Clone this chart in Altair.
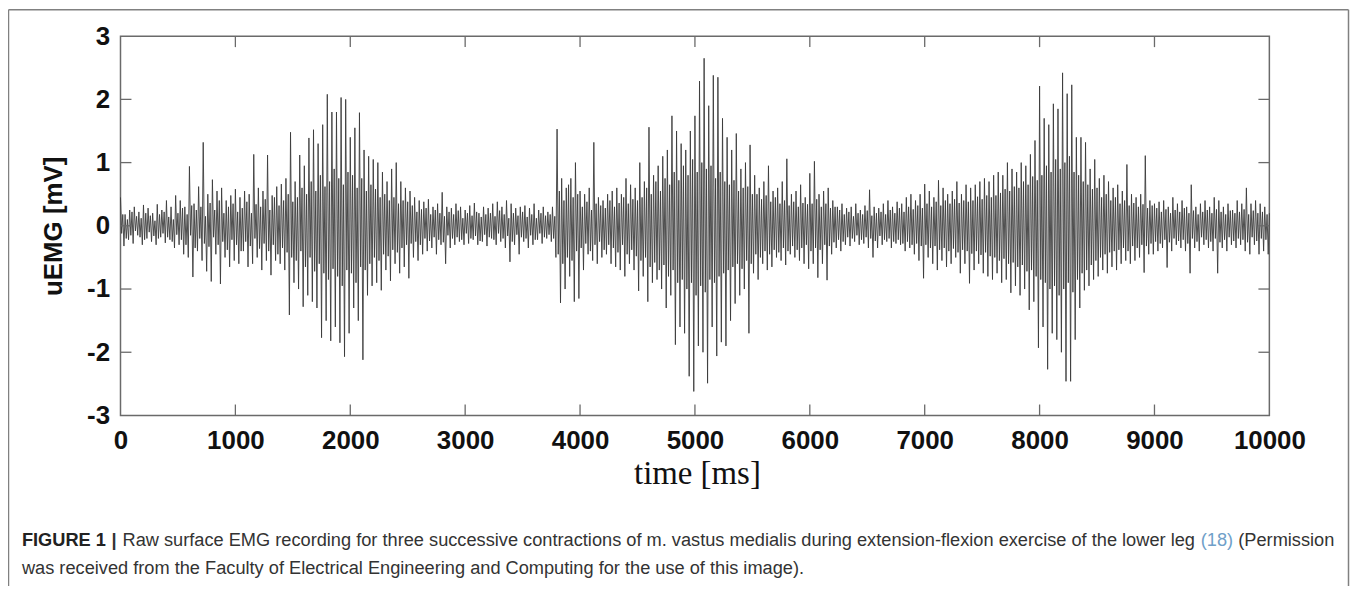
import altair as alt
import pandas as pd

# ---------------- data ----------------
# main peaks, one every 20 ms
emg_0_2s = [
    0.45, -0.32, 0.18, -0.22, 0.25, -0.28, 0.30, -0.15, 0.22, -0.30, 0.33, -0.20, 0.28, -0.25, 0.20, -0.30, 0.34, -0.18, 0.25, -0.27, 0.40, -0.22, 0.30, -0.35, 0.48,
    -0.30, 0.40, -0.45, 0.30, -0.50, 0.94, -0.81, 0.35, -0.40, 0.62, -0.55, 1.32, -0.72, 0.50, -0.88, 0.73, -0.45, 0.55, -0.92, 0.60, -0.50, 0.40, -0.65, 0.48, -0.55,
    0.58, -0.60, 0.45, -0.40, 0.55, -0.65, 0.50, -0.60, 1.13, -0.50, 0.60, -0.70, 0.55, -0.55, 1.12, -0.78, 0.48, -0.55, 0.62, -0.60, 0.66, -0.70, 0.75, -1.41, 1.48,
    -0.90, 0.70, -1.00, 1.12, -1.28, 0.95, -1.10, 1.39, -1.20, 1.52, -1.30, 1.30, -1.77, 1.60, -1.50, 2.08, -1.82, 1.80, -1.60, 1.80, -1.85, 2.03, -2.07, 2.00, -1.70,
]
emg_2_4s = [
    1.40, -1.30, 1.55, -1.50, 1.79, -2.12, 1.20, -1.10, 1.10, -0.95, 1.05, -0.90, 1.00, -1.02, 0.85, -0.70, 0.70, -0.87, 0.90, -0.60, 1.00, -0.75, 0.70, -0.65, 0.60,
    -0.83, 0.55, -0.50, 0.45, -0.55, 0.40, -0.45, 0.38, -0.40, 0.42, -0.35, 0.30, -0.45, 0.35, -0.30, 0.53, -0.60, 0.30, -0.35, 0.28, -0.30, 0.35, -0.25, 0.30, -0.30,
    0.25, -0.28, 0.32, -0.22, 0.36, -0.30, 0.20, -0.25, 0.30, -0.32, 0.28, -0.20, 0.35, -0.30, 0.38, -0.25, 0.30, -0.35, 0.40, -0.57, 0.35, -0.30, 0.28, -0.45, 0.30,
    -0.25, 0.32, -0.35, 0.28, -0.30, 0.35, -0.22, 0.25, -0.28, 0.30, -0.20, 0.22, -0.25, 0.30, -0.50, 1.53, -1.22, 0.75, -1.00, 0.60, -0.80, 0.75, -1.20, 1.00, -1.15,
]
emg_4_6s = [
    0.55, -0.70, 0.50, -0.45, 0.60, -0.55, 1.32, -0.60, 0.45, -0.50, 0.40, -0.45, 0.50, -0.60, 0.55, -0.65, 0.60, -0.70, 0.50, -0.80, 0.75, -0.60, 0.65, -0.70, 0.60,
    -1.03, 1.00, -0.80, 0.70, -1.20, 1.56, -0.90, 0.80, -0.85, 0.95, -1.00, 1.10, -1.30, 1.20, -1.10, 1.74, -1.88, 1.50, -1.60, 1.30, -1.70, 1.20, -2.38, 1.50, -2.62,
    1.74, -1.90, 2.29, -2.00, 2.65, -2.49, 1.90, -1.60, 2.38, -2.06, 2.35, -1.84, 1.70, -1.90, 1.40, -1.50, 1.20, -1.23, 1.46, -1.10, 0.90, -1.00, 1.00, -1.70, 1.28,
    -0.75, 0.80, -0.85, 0.60, -0.60, 0.70, -0.70, 0.95, -0.65, 0.55, -0.50, 0.60, -0.55, 0.70, -0.62, 1.06, -0.45, 0.50, -0.50, 0.55, -0.55, 0.65, -0.60, 0.45, -0.68,
]
emg_6_8s = [
    0.83, -0.60, 1.02, -0.82, 0.50, -0.60, 0.55, -0.86, 0.60, -0.45, 0.40, -0.35, 0.30, -0.40, 0.35, -0.30, 0.28, -0.32, 0.30, -0.25, 0.35, -0.30, 0.25, -0.28, 0.32,
    -0.35, 0.57, -0.50, 0.30, -0.35, 0.28, -0.30, 0.35, -0.25, 0.40, -0.35, 0.30, -0.28, 0.38, -0.30, 0.35, -0.40, 0.45, -0.35, 0.50, -0.45, 0.40, -0.55, 0.50, -0.83,
    0.66, -0.50, 0.55, -0.60, 0.45, -0.70, 0.72, -0.55, 0.60, -0.65, 0.50, -0.60, 0.55, -0.50, 0.70, -0.75, 0.50, -0.60, 0.65, -0.91, 0.60, -0.70, 0.65, -0.60, 0.70,
    -0.75, 0.75, -0.80, 0.70, -0.85, 0.80, -0.75, 0.85, -0.90, 0.80, -0.85, 1.00, -1.06, 0.90, -0.95, 0.85, -1.10, 1.00, -1.00, 0.95, -1.33, 1.13, -1.20, 1.35, -1.93,
]
emg_8_10s = [
    2.21, -1.60, 1.70, -2.27, 1.60, -1.70, 1.93, -1.80, 1.85, -2.00, 2.42, -2.46, 2.09, -2.46, 2.23, -1.80, 1.40, -1.30, 1.40, -1.02, 1.32, -0.95, 0.90, -0.85, 1.05,
    -0.80, 0.75, -0.70, 0.80, -0.75, 0.70, -0.65, 0.60, -0.70, 0.65, -0.60, 0.55, -0.55, 0.97, -0.60, 0.50, -0.55, 0.45, -0.50, 0.50, -0.74, 1.11, -0.45, 0.40, -0.45,
    0.35, -0.40, 0.38, -0.35, 0.40, -0.66, 0.30, -0.40, 0.45, -0.30, 0.35, -0.35, 0.40, -0.40, 0.30, -0.75, 0.65, -0.35, 0.30, -0.40, 0.35, -0.30, 0.40, -0.35, 0.30,
    -0.40, 0.45, -0.75, 0.40, -0.35, 0.30, -0.40, 0.35, -0.30, 0.25, -0.35, 0.40, -0.30, 0.35, -0.40, 0.60, -0.45, 0.35, -0.30, 0.40, -0.45, 0.35, -0.40, 0.30, -0.45,
    0.20,
]

# the dark core of the trace: two smaller samples between each pair of peaks
core_0_2s = [
    -0.12, 0.18, -0.20, 0.10, -0.15, 0.22, -0.08, 0.15, -0.18, 0.12, -0.22, 0.20, -0.10, 0.16, -0.16, 0.08, -0.20, 0.18, -0.12, 0.22, -0.18, 0.14, -0.25, 0.10, -0.14, 0.20,
    -0.22, 0.28, -0.30, 0.18, -0.15, 0.32, -0.35, 0.25, -0.20, 0.30, -0.28, 0.15, -0.33, 0.36, -0.18, 0.25, -0.30, 0.40, -0.25, 0.20, -0.38, 0.30, -0.22, 0.35,
    -0.30, 0.22, -0.40, 0.28, -0.25, 0.38, -0.32, 0.20, -0.20, 0.34, -0.36, 0.30, -0.28, 0.42, -0.40, 0.25, -0.30, 0.45, -0.45, 0.32, -0.35, 0.40, -0.42, 0.50, -0.50, 0.38,
    -0.55, 0.45, -0.40, 0.60, -0.65, 0.50, -0.50, 0.70, -0.72, 0.55, -0.60, 0.80, -0.75, 0.62, -0.85, 0.70, -0.68, 0.90, -0.80, 0.75, -0.95, 0.65, -0.70, 0.85,
]
core_2_4s = [
    -0.75, 0.80, -0.90, 0.60, -0.65, 0.75, -0.70, 0.55, -0.60, 0.65, -0.50, 0.58, -0.55, 0.45, -0.45, 0.50, -0.48, 0.40, -0.38, 0.45, -0.42, 0.35, -0.35, 0.40, -0.30, 0.38,
    -0.28, 0.32, -0.25, 0.22, -0.30, 0.26, -0.20, 0.28, -0.24, 0.18, -0.18, 0.25, -0.22, 0.20, -0.26, 0.15, -0.15, 0.22, -0.20, 0.18, -0.18, 0.24, -0.22, 0.12,
    -0.12, 0.20, -0.20, 0.16, -0.16, 0.22, -0.24, 0.14, -0.14, 0.18, -0.18, 0.20, -0.22, 0.15, -0.12, 0.24, -0.20, 0.18, -0.16, 0.12, -0.25, 0.20, -0.14, 0.16,
    -0.18, 0.22, -0.20, 0.14, -0.15, 0.18, -0.22, 0.12, -0.12, 0.20, -0.18, 0.16, -0.14, 0.18, -0.20, 0.15,
    -0.45, 0.55, -0.60, 0.40, -0.50, 0.65, -0.55, 0.45, -0.40, 0.50,
]
core_4_6s = [
    -0.35, 0.30, -0.28, 0.38, -0.40, 0.25, -0.30, 0.35, -0.25, 0.32, -0.38, 0.28, -0.30, 0.40, -0.35, 0.30, -0.42, 0.36, -0.30, 0.45, -0.45, 0.35, -0.38, 0.42, -0.48, 0.40,
    -0.55, 0.45, -0.50, 0.60, -0.65, 0.50, -0.58, 0.70, -0.70, 0.55, -0.62, 0.75, -0.80, 0.65, -0.70, 0.85, -0.90, 0.72, -0.85, 0.95, -1.00, 0.80, -0.90, 1.05,
    -1.10, 0.85, -0.95, 1.00, -1.05, 0.90, -0.85, 0.95, -0.90, 0.75, -0.80, 0.85, -0.75, 0.70, -0.70, 0.65, -0.65, 0.72, -0.60, 0.55, -0.68, 0.60, -0.55, 0.62, -0.60, 0.50,
    -0.45, 0.50, -0.50, 0.42, -0.40, 0.48, -0.45, 0.38, -0.38, 0.45, -0.42, 0.35, -0.35, 0.40, -0.40, 0.32, -0.32, 0.38, -0.38, 0.30, -0.35, 0.36, -0.30, 0.34,
]
core_6_8s = [
    -0.40, 0.35, -0.35, 0.42, -0.38, 0.30, -0.30, 0.35, -0.32, 0.28, -0.26, 0.30,
    -0.22, 0.25, -0.25, 0.18, -0.18, 0.22, -0.20, 0.15, -0.15, 0.20, -0.22, 0.18, -0.18, 0.24, -0.20, 0.16, -0.24, 0.20, -0.16, 0.22,
    -0.22, 0.18, -0.20, 0.25, -0.25, 0.20, -0.22, 0.28, -0.28, 0.22, -0.25, 0.30, -0.30, 0.26, -0.28, 0.32, -0.32, 0.28,
    -0.30, 0.35, -0.35, 0.30, -0.32, 0.38, -0.38, 0.32, -0.35, 0.40, -0.40, 0.35, -0.36, 0.42, -0.42, 0.36, -0.38, 0.40, -0.40, 0.38,
    -0.44, 0.40, -0.40, 0.46, -0.46, 0.42, -0.42, 0.48, -0.48, 0.45,
    -0.50, 0.48, -0.55, 0.52, -0.52, 0.58, -0.60, 0.55, -0.58, 0.62, -0.65, 0.60, -0.62, 0.70, -0.72, 0.65, -0.70, 0.78, -0.80, 0.72,
]
core_8_10s = [
    -0.85, 0.80, -0.90, 0.95, -1.00, 0.85, -0.95, 1.05, -1.10, 0.90, -1.00, 1.00, -0.90, 1.10, -1.05, 0.85, -0.85, 0.80, -0.75, 0.70, -0.70, 0.65, -0.62, 0.58, -0.55, 0.60,
    -0.50, 0.45, -0.45, 0.50, -0.42, 0.40, -0.40, 0.45, -0.38, 0.35, -0.35, 0.40, -0.40, 0.32, -0.32, 0.36, -0.35, 0.30, -0.30, 0.34, -0.32, 0.28, -0.28, 0.32,
    -0.25, 0.28, -0.28, 0.22, -0.22, 0.26, -0.26, 0.20, -0.20, 0.25, -0.24, 0.22, -0.22, 0.28, -0.28, 0.20, -0.20, 0.24, -0.25, 0.18, -0.18, 0.22, -0.22, 0.25,
    -0.25, 0.20, -0.20, 0.26, -0.26, 0.22, -0.22, 0.18, -0.18, 0.24, -0.24, 0.20, -0.20, 0.22, -0.22, 0.26, -0.26, 0.18, -0.18, 0.24, -0.24, 0.20, -0.20, 0.22,
    -0.22, 0.18,
]

x_ticks = [0, 1000, 2000, 3000, 4000, 5000, 6000, 7000, 8000, 9000, 10000]
y_ticks = [-3, -2, -1, 0, 1, 2, 3]

caption_bold = "FIGURE 1"
caption_bar = "|"
caption_main = ("Raw surface EMG recording for three successive contractions of m. vastus "
                "medialis during extension-flexion exercise of the lower leg")
caption_ref = "(18)"
caption_tail = "(Permission"
caption_line2 = ("was received from the Faculty of Electrical Engineering and Computing "
                 "for the use of this image).")

peaks = emg_0_2s + emg_2_4s + emg_4_6s + emg_6_8s + emg_8_10s
core = core_0_2s + core_2_4s + core_4_6s + core_6_8s + core_8_10s
assert len(peaks) == 501, len(peaks)
assert len(core) == 500, len(core)

# interleave: peak(+), core(-), core(+), peak(-) every 40 ms, 10 ms apart
rows = []
for k in range(250):
    t0 = 40 * k
    rows.append((t0, peaks[2 * k]))
    rows.append((t0 + 10, core[2 * k]))
    rows.append((t0 + 20, core[2 * k + 1]))
    rows.append((t0 + 30, peaks[2 * k + 1]))
rows.append((10000, peaks[500]))
df = pd.DataFrame(rows, columns=["t", "v"])

# ---------------- layout ----------------
W, H = 1154, 381
PAD = {"left": 113, "top": 27, "right": 81, "bottom": 170}
FONT = "Liberation Sans"
CAP_FS = 18.3

xs = alt.Scale(domain=[0, 10000], nice=False, zero=False)
ys = alt.Scale(domain=[-3, 3], nice=False, zero=False)

line = alt.Chart(df).mark_line(color="#3a3a3a", strokeWidth=0.9).encode(
    x=alt.X("t:Q", scale=xs,
            axis=alt.Axis(values=x_ticks, labelExpr="'' + datum.value", ticks=False, domain=False,
                          grid=False, labelFont=FONT, labelFontSize=26, labelFontWeight="bold",
                          labelColor="#111", labelPadding=12, labelFlush=False, labelOverlap=False,
                          title="time [ms]", titleFont="Liberation Serif", titleFontSize=33,
                          titleFontWeight="normal", titleColor="#111", titleX=579, titleY=68,
                          titleAlign="center", titleBaseline="alphabetic")),
    y=alt.Y("v:Q", scale=ys,
            axis=alt.Axis(values=y_ticks, labelExpr="'' + datum.value", ticks=False, domain=False,
                          grid=False, labelFont=FONT, labelFontSize=26, labelFontWeight="bold",
                          labelColor="#111", labelPadding=11, labelFlush=False, labelOverlap=False,
                          title="uEMG [mV]", titleFont=FONT, titleFontSize=26, titleFontWeight="bold",
                          titleColor="#111", titleAngle=270, titleX=-67, titleY=H / 2,
                          titleAlign="center", titleBaseline="middle")),
)

tick_color = "#6a6a6a"
xt = pd.DataFrame({"t": x_ticks[1:-1]})
yt = pd.DataFrame({"v": y_ticks[1:-1]})
TL = 11
top_ticks = alt.Chart(xt).mark_rule(color=tick_color, strokeWidth=1.3).encode(
    x=alt.X("t:Q", scale=xs), y=alt.value(0), y2=alt.value(TL))
bot_ticks = alt.Chart(xt).mark_rule(color=tick_color, strokeWidth=1.3).encode(
    x=alt.X("t:Q", scale=xs), y=alt.value(H - TL), y2=alt.value(H))
left_ticks = alt.Chart(yt).mark_rule(color=tick_color, strokeWidth=1.3).encode(
    y=alt.Y("v:Q", scale=ys), x=alt.value(0), x2=alt.value(TL))
right_ticks = alt.Chart(yt).mark_rule(color=tick_color, strokeWidth=1.3).encode(
    y=alt.Y("v:Q", scale=ys), x=alt.value(W - TL), x2=alt.value(W))

one = pd.DataFrame({"k": [0]})
fx0 = -PAD["left"] + 0.5
fx1 = W + PAD["right"] - 1.5
fy0 = -PAD["top"] + 0.5
frame_col = "#808080"
frame_left = alt.Chart(one).mark_rule(color=frame_col, strokeWidth=1.5).encode(
    x=alt.value(fx0), y=alt.value(fy0), y2=alt.value(H + PAD["bottom"] + 5))
frame_right = alt.Chart(one).mark_rule(color=frame_col, strokeWidth=1.5).encode(
    x=alt.value(fx1), y=alt.value(fy0), y2=alt.value(H + PAD["bottom"] + 5))
frame_top = alt.Chart(one).mark_rule(color=frame_col, strokeWidth=1.5).encode(
    x=alt.value(fx0), x2=alt.value(fx1), y=alt.value(fy0))

cap_y1 = 512
cap_y2 = 540
main_x = 2
ref_x = main_x + 59.188 * CAP_FS
tail_x = ref_x + (1.778 + 0.278) * CAP_FS


def cap(text, x, y, color="#333", weight="normal"):
    return alt.Chart(one).mark_text(
        align="left", baseline="alphabetic", font=FONT, fontSize=CAP_FS, fontWeight=weight,
        color=color).encode(x=alt.value(x), y=alt.value(y), text=alt.value(text))


captions = (cap(caption_bold, -99, cap_y1, "#222", "bold")
            + cap(caption_bar, -9, cap_y1, "#333", "bold")
            + cap(caption_main, main_x, cap_y1)
            + cap(caption_ref, ref_x, cap_y1, "#6f9fc9")
            + cap(caption_tail, tail_x, cap_y1)
            + cap(caption_line2, -99, cap_y2))

chart = alt.layer(
    line, top_ticks, bot_ticks, left_ticks, right_ticks,
    frame_left, frame_right, frame_top, captions,
).properties(
    width=W, height=H,
    autosize=alt.AutoSizeParams(type="none"),
    padding=PAD,
    background="white",
).configure_view(stroke="#6a6a6a", strokeWidth=1.5)

chart.save("out.html", embed_options={"renderer": "svg", "actions": False})
